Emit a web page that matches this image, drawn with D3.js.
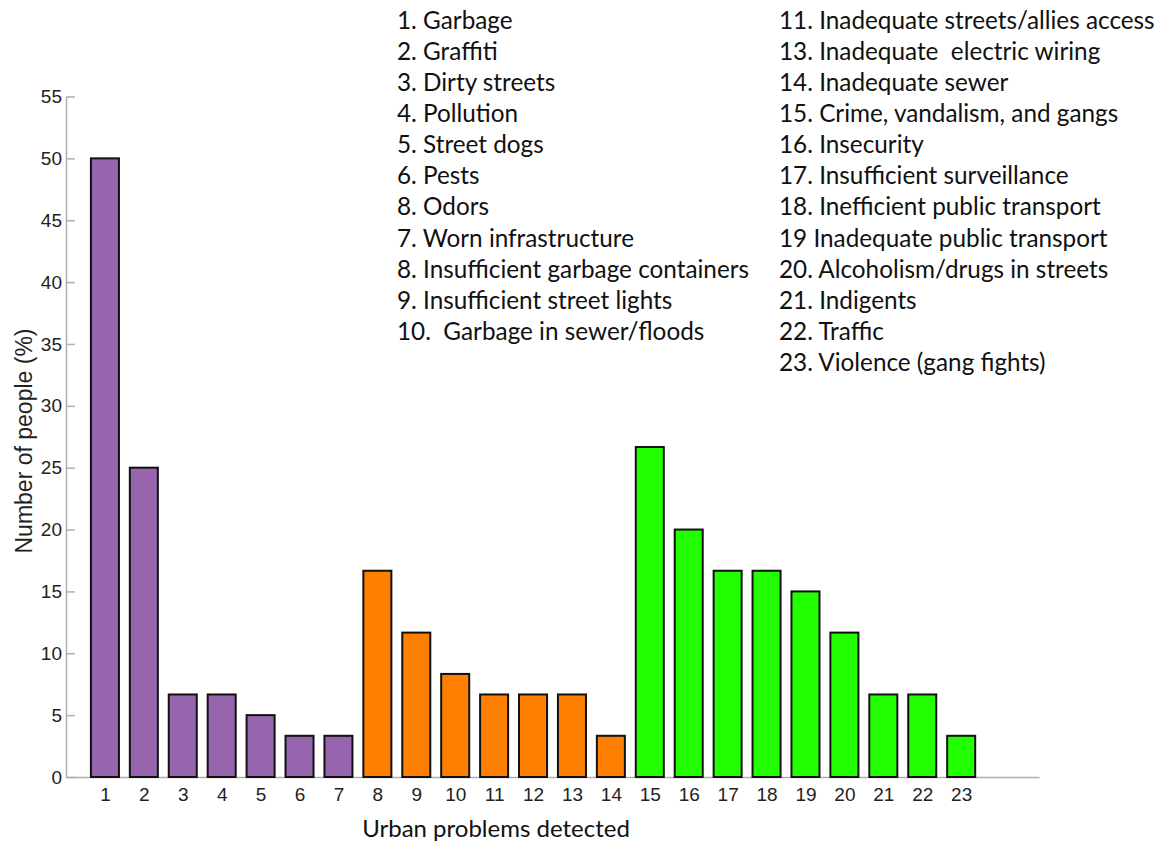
<!DOCTYPE html>
<html>
<head>
<meta charset="utf-8">
<script src="https://cdn.jsdelivr.net/npm/d3@7"></script>
<style>
  body { margin: 0; background: #fff; }
  .axis path, .axis line { stroke: #b0b0b0; stroke-width: 1.5px; }
  .legend text { font: 24.3px Lato, "Open Sans", sans-serif; fill: #111; white-space: pre; }
</style>
</head>
<body>
<div id="chart"></div>
<script>
(function() {
  // problem index on the x axis
  var problems = d3.range(1, 24);
  // percentage of people reporting each problem
  var values = [50, 25, 6.67, 6.67, 5, 3.33, 3.33, 16.67, 11.67, 8.33, 6.67, 6.67, 6.67, 3.33,
                26.67, 20, 16.67, 16.67, 15, 11.67, 6.67, 6.67, 3.33];
  // colour group of each bar
  var groups = ["a","a","a","a","a","a","a","b","b","b","b","b","b","b",
                "c","c","c","c","c","c","c","c","c"];
  var groupColors = {a: "#9665ae", b: "#ff8000", c: "#22ff00"};

  var yTicks = d3.range(0, 56, 5);

  var legendLeft = ["1. Garbage", "2. Graffiti", "3. Dirty streets", "4. Pollution",
    "5. Street dogs", "6. Pests", "8. Odors", "7. Worn infrastructure",
    "8. Insufficient garbage containers", "9. Insufficient street lights",
    "10.  Garbage in sewer/floods"];
  var legendRight = ["11. Inadequate streets/allies access", "13. Inadequate  electric wiring",
    "14. Inadequate sewer", "15. Crime, vandalism, and gangs", "16. Insecurity",
    "17. Insufficient surveillance", "18. Inefficient public transport",
    "19 Inadequate public transport", "20. Alcoholism/drugs in streets",
    "21. Indigents", "22. Traffic", "23. Violence (gang fights)"];

  var outerWidth = 1159,
      outerHeight = 841;

  var tickFont = "19px 'Liberation Sans', Arial, sans-serif";

  var svg = d3.select("#chart").append("svg")
      .attr("width", outerWidth)
      .attr("height", outerHeight);

  var x = d3.scaleLinear()
      .domain([0, 25])
      .range([66, 1039]);

  var y = d3.scaleLinear()
      .domain([0, 55])
      .range([777, 96.5]);

  var barWidth = (x(1) - x(0)) * 0.72;

  // y axis with inward ticks
  var yAxis = svg.append("g")
      .attr("class", "axis")
      .attr("transform", "translate(" + x(0) + ",0)")
      .call(d3.axisRight(y).tickValues(yTicks).tickSize(9).tickSizeOuter(0));
  yAxis.selectAll("text")
      .attr("x", -4)
      .attr("text-anchor", "end")
      .style("font", tickFont)
      .style("fill", "#222");

  // x axis line only, labels under each bar
  var xAxis = svg.append("g")
      .attr("class", "axis")
      .attr("transform", "translate(0," + y(0) + ")")
      .call(d3.axisBottom(x).tickValues(problems).tickSize(0).tickSizeOuter(0).tickFormat(d3.format("d")));
  xAxis.selectAll("text")
      .attr("y", 0)
      .attr("dy", "1.28em")
      .style("font", tickFont)
      .style("fill", "#222");

  svg.selectAll(".bar")
      .data(values)
    .enter().append("rect")
      .attr("class", "bar")
      .attr("x", (d, i) => x(problems[i]) - barWidth / 2)
      .attr("y", d => y(d))
      .attr("width", barWidth)
      .attr("height", d => y(0) - y(d))
      .attr("fill", (d, i) => groupColors[groups[i]])
      .attr("stroke", "#111")
      .attr("stroke-width", 2);

  svg.append("text")
      .attr("transform", "translate(32,441) rotate(-90)")
      .attr("text-anchor", "middle")
      .style("font", "23px 'Liberation Sans', Arial, sans-serif")
      .style("fill", "#222")
      .text("Number of people (%)");

  svg.append("text")
      .attr("x", 496)
      .attr("y", 837)
      .attr("text-anchor", "middle")
      .style("font", "24px Lato, 'Open Sans', sans-serif")
      .style("fill", "#111")
      .text("Urban problems detected");

  var legend = svg.append("g").attr("class", "legend");

  legend.selectAll(".left")
      .data(legendLeft)
    .enter().append("text")
      .attr("class", "left")
      .attr("x", 397)
      .attr("y", (d, i) => 28.5 + i * 31.15)
      .text(d => d);

  legend.selectAll(".right")
      .data(legendRight)
    .enter().append("text")
      .attr("class", "right")
      .attr("x", 779)
      .attr("y", (d, i) => 28.5 + i * 31.15)
      .text(d => d);
})();
</script>
</body>
</html>
